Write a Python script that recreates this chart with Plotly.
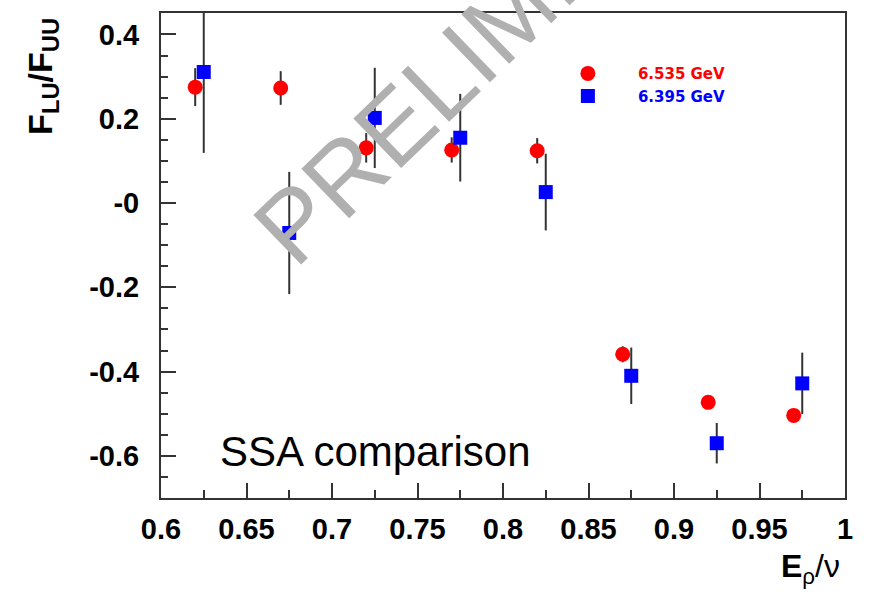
import plotly.graph_objects as go

# ---------------- data ----------------
x_red = [0.62, 0.67, 0.72, 0.77, 0.82, 0.87, 0.92, 0.97]
y_red = [0.275, 0.273, 0.131, 0.126, 0.124, -0.359, -0.473, -0.504]
err_red = [0.045, 0.040, 0.035, 0.030, 0.030, 0.019, 0.008, 0.008]

x_blue = [0.625, 0.675, 0.725, 0.775, 0.825, 0.875, 0.925, 0.975]
y_blue = [0.311, -0.071, 0.202, 0.155, 0.026, -0.410, -0.570, -0.428]
err_blue = [0.192, 0.145, 0.119, 0.104, 0.091, 0.067, 0.048, 0.073]

name_red = "6.535 GeV"
name_blue = "6.395 GeV"

x_tickvals = [0.6, 0.65, 0.7, 0.75, 0.8, 0.85, 0.9, 0.95, 1.0]
x_ticktext = ["0.6", "0.65", "0.7", "0.75", "0.8", "0.85", "0.9", "0.95", "1"]
y_tickvals = [0.4, 0.2, 0.0, -0.2, -0.4, -0.6]
y_ticktext = ["0.4", "0.2", "-0", "-0.2", "-0.4", "-0.6"]

# ---------------- style ----------------
FRAME = "#333333"
ERR = "#333333"
TICKFONT = dict(family="Liberation Sans", size=29, color="black", weight="bold")

fig = go.Figure()
fig.add_trace(go.Scatter(
    x=x_red, y=y_red, mode="markers",
    name=f"<span style='color:#ff0000'>{name_red}</span>",
    marker=dict(symbol="circle", size=15, color="#ff0000", line=dict(width=0)),
    error_y=dict(type="data", array=err_red, color=ERR, thickness=2, width=0),
))
fig.add_trace(go.Scatter(
    x=x_blue, y=y_blue, mode="markers",
    name=f"<span style='color:#0000ff'>{name_blue}</span>",
    marker=dict(symbol="square", size=14, color="#0000ff", line=dict(width=0)),
    error_y=dict(type="data", array=err_blue, color=ERR, thickness=2, width=0),
))

fig.update_layout(
    width=871, height=599,
    margin=dict(l=161, r=26, t=13, b=101),
    paper_bgcolor="white", plot_bgcolor="white",
    showlegend=True,
    legend=dict(
        x=0.551, y=0.909, xanchor="left", yanchor="top",
        bgcolor="rgba(0,0,0,0)", borderwidth=0,
        font=dict(family="DejaVu Sans", size=15, weight="bold"),
        itemwidth=90, tracegroupgap=0,
    ),
    xaxis=dict(
        range=[0.6, 1.0], showgrid=False, zeroline=False,
        showline=True, mirror=True, linecolor=FRAME, linewidth=2,
        ticks="inside", ticklen=15, tickwidth=1.5, tickcolor=FRAME,
        tickvals=x_tickvals, ticktext=x_ticktext, tickfont=TICKFONT,
        ticklabelstandoff=4,
        minor=dict(ticks="inside", ticklen=8, tickwidth=1.5, tickcolor=FRAME,
                   tick0=0.6, dtick=0.025, showgrid=False),
    ),
    yaxis=dict(
        range=[-0.70, 0.451], showgrid=False, zeroline=False,
        showline=True, mirror=True, linecolor=FRAME, linewidth=2,
        ticks="inside", ticklen=15, tickwidth=1.5, tickcolor=FRAME,
        tickvals=y_tickvals, ticktext=y_ticktext, tickfont=TICKFONT,
        ticklabelstandoff=14,
        minor=dict(ticks="inside", ticklen=7, tickwidth=1.5, tickcolor=FRAME,
                   tick0=0.0, dtick=0.05, showgrid=False),
    ),
)

# axis titles
fig.add_annotation(
    text="F<sub>LU</sub>/F<sub>UU</sub>", textangle=-90,
    xref="paper", yref="paper", x=-0.1725, y=0.993,
    xanchor="center", yanchor="top", showarrow=False,
    font=dict(family="Liberation Sans", size=34, color="black", weight="bold"),
)
fig.add_annotation(
    text="<b>E</b><sub>ρ</sub>/ν",
    xref="paper", yref="paper", x=0.996, y=-0.098,
    xanchor="right", yanchor="top", showarrow=False,
    font=dict(family="Liberation Sans", size=32, color="black"),
)
# label inside the plot
fig.add_annotation(
    text="SSA comparison",
    xref="paper", yref="paper", x=0.083, y=0.095,
    xanchor="left", yanchor="middle", showarrow=False,
    font=dict(family="Liberation Sans", size=42, color="black"),
)
# watermark
fig.add_annotation(
    text="PRELIMINARY", textangle=-44,
    xref="paper", yref="paper", x=0.5168, y=1.006,
    xanchor="center", yanchor="middle", showarrow=False,
    font=dict(family="Liberation Sans", size=100, color="#b0b0b0"),
)

fig.write_html("out.html")
